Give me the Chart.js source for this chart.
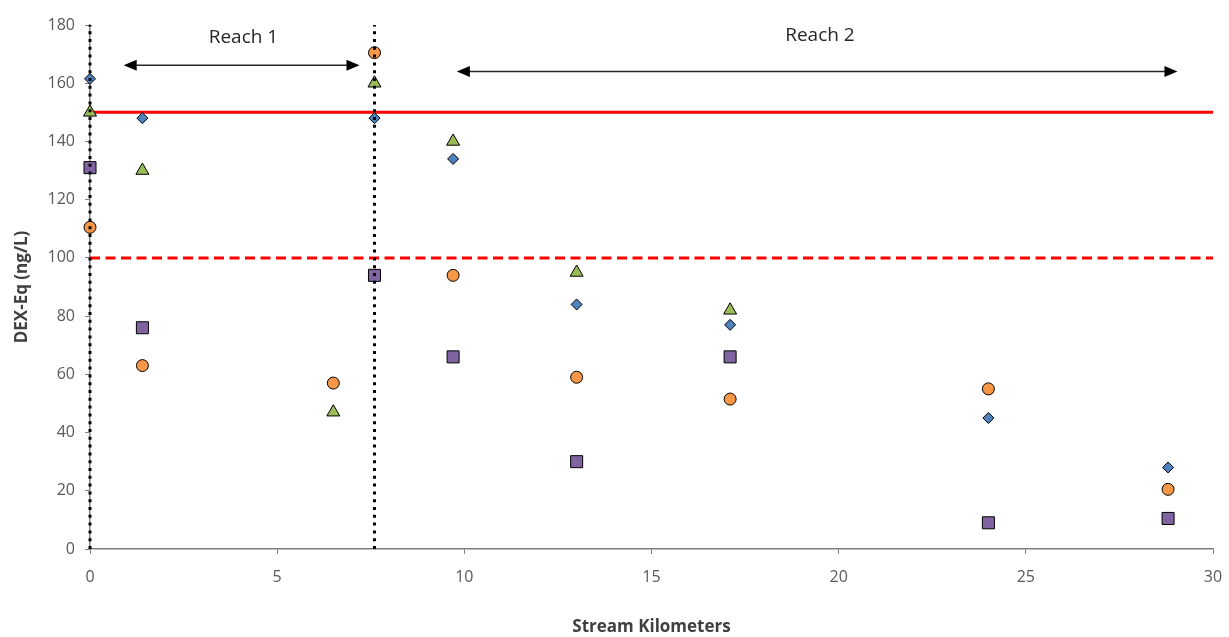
<!DOCTYPE html>
<html>
<head>
<meta charset="utf-8">
<script src="https://cdn.jsdelivr.net/npm/chart.js@4"></script>
<style>
  html, body { margin: 0; padding: 0; background: #fff; }
  #wrap { width: 1229px; height: 637px; }
</style>
</head>
<body>
<div id="wrap"><canvas id="chart" width="1229" height="637"></canvas></div>
<script>
// stream km of each sampling site
const sites = [0, 1.4, 6.5, 7.6, 9.7, 13.0, 17.1, 24.0, 28.8];

// DEX-Eq (ng/L) per site, null = no sample
const seriesDiamond = [161.5, 148, null, 148, 134, 84, 77, 45, 28];
const seriesTriangle = [150, 130, 47, 160, 140, 95, 82, null, null];
const seriesCircle = [110.5, 63, 57, 170.5, 94, 59, 51.5, 55, 20.5];
const seriesSquare = [131, 76, null, 94, 66, 30, 66, 9, 10.5];

const thresholdHigh = 150;
const thresholdLow = 100;
const reachBounds = [0, 7.6];

const xTicks = [0, 5, 10, 15, 20, 25, 30];
const yTicks = [0, 20, 40, 60, 80, 100, 120, 140, 160, 180];

const colors = {
  axis: '#7f7f7f',
  tickLabel: '#595959',
  title: '#404040',
  red: '#ff0000',
  diamond: '#4f81bd',
  triangle: '#9bbb59',
  circle: '#f79646',
  square: '#8064a2'
};

function toPoints(values) {
  return sites.map((x, i) => ({x: x, y: values[i]})).filter(p => p.y !== null);
}

function markerSet(label, values, style, color, radius) {
  return {
    type: 'scatter',
    label: label,
    data: toPoints(values),
    pointStyle: style,
    pointRadius: radius,
    backgroundColor: color,
    borderColor: '#000',
    borderWidth: 1,
    clip: false,
    order: 2
  };
}

function hLine(y, dash) {
  return {
    type: 'line',
    data: [{x: 0, y: y}, {x: 30, y: y}],
    borderColor: colors.red,
    borderWidth: 3,
    borderDash: dash,
    pointRadius: 0,
    order: 3
  };
}

function vLine(x) {
  return {
    type: 'line',
    data: [{x: x, y: 0}, {x: x, y: 180}],
    borderColor: '#000',
    borderWidth: 3,
    borderDash: [3, 4.8],
    pointRadius: 0,
    clip: false,
    order: 1
  };
}

// reach arrows + labels, in data units
const reachArrows = [
  {text: 'Reach 1', from: 0.9, to: 7.2, y: 166.2, textX: 4.1, textY: 175.8},
  {text: 'Reach 2', from: 9.8, to: 29.05, y: 164, textX: 19.5, textY: 176.5}
];

const arrowPlugin = {
  id: 'reachArrows',
  afterDatasetsDraw(chart) {
    const {ctx, scales: {x, y}} = chart;
    ctx.save();
    reachArrows.forEach(a => {
      const x1 = x.getPixelForValue(a.from);
      const x2 = x.getPixelForValue(a.to);
      const yy = y.getPixelForValue(a.y);
      ctx.strokeStyle = '#262626';
      ctx.lineWidth = 1.5;
      ctx.beginPath();
      ctx.moveTo(x1 + 8, yy);
      ctx.lineTo(x2 - 8, yy);
      ctx.stroke();

      ctx.fillStyle = '#000';
      // left head
      ctx.beginPath();
      ctx.moveTo(x1, yy);
      ctx.lineTo(x1 + 13, yy - 5.5);
      ctx.lineTo(x1 + 13, yy + 5.5);
      ctx.closePath();
      ctx.fill();
      // right head
      ctx.beginPath();
      ctx.moveTo(x2, yy);
      ctx.lineTo(x2 - 13, yy - 5.5);
      ctx.lineTo(x2 - 13, yy + 5.5);
      ctx.closePath();
      ctx.fill();

      ctx.fillStyle = '#262626';
      ctx.font = '19px "Open Sans"';
      ctx.textAlign = 'center';
      ctx.textBaseline = 'middle';
      ctx.fillText(a.text, x.getPixelForValue(a.textX), y.getPixelForValue(a.textY));
    });
    ctx.restore();
  }
};

new Chart(document.getElementById('chart'), {
  type: 'scatter',
  data: {
    datasets: [
      markerSet('Series 1', seriesDiamond, 'rectRot', colors.diamond, 5.5),
      markerSet('Series 2', seriesTriangle, 'triangle', colors.triangle, 7.5),
      markerSet('Series 3', seriesCircle, 'circle', colors.circle, 6),
      markerSet('Series 4', seriesSquare, 'rect', colors.square, 8.5),
      hLine(thresholdHigh, []),
      hLine(thresholdLow, [10, 5.5]),
      vLine(reachBounds[0]),
      vLine(reachBounds[1])
    ]
  },
  options: {
    responsive: false,
    animation: false,
    layout: {padding: {left: 0, right: 16, top: 25, bottom: 0}},
    plugins: {
      legend: {display: false},
      tooltip: {enabled: false}
    },
    scales: {
      x: {
        type: 'linear',
        min: 0,
        max: 30,
        afterBuildTicks: scale => { scale.ticks = xTicks.map(v => ({value: v})); },
        afterFit: scale => {
          scale.height = 88;
          scale.paddingLeft = 0;
          scale.paddingRight = 0;
        },
        ticks: {
          color: colors.tickLabel,
          font: {family: 'Open Sans', size: 16},
          padding: 14
        },
        grid: {
          display: true,
          drawOnChartArea: false,
          drawTicks: true,
          tickLength: 5,
          color: colors.axis
        },
        border: {display: true, color: colors.axis, width: 1.5},
        title: {
          display: true,
          text: 'Stream Kilometers',
          color: colors.title,
          font: {family: 'Open Sans', size: 17, weight: 'bold'},
          padding: {top: 0, bottom: 0}
        }
      },
      y: {
        type: 'linear',
        min: 0,
        max: 180,
        afterBuildTicks: scale => { scale.ticks = yTicks.map(v => ({value: v})); },
        afterFit: scale => { scale.width = 90; },
        ticks: {
          color: colors.tickLabel,
          font: {family: 'Open Sans', size: 16},
          padding: 10
        },
        grid: {
          display: true,
          drawOnChartArea: false,
          drawTicks: true,
          tickLength: 5,
          color: colors.axis
        },
        border: {display: true, color: colors.axis, width: 1.5},
        title: {
          display: true,
          text: 'DEX-Eq (ng/L)',
          color: colors.title,
          font: {family: 'Open Sans', size: 17, weight: 'bold'},
          padding: {top: 12, bottom: 0}
        }
      }
    }
  },
  plugins: [arrowPlugin]
});
</script>
</body>
</html>
